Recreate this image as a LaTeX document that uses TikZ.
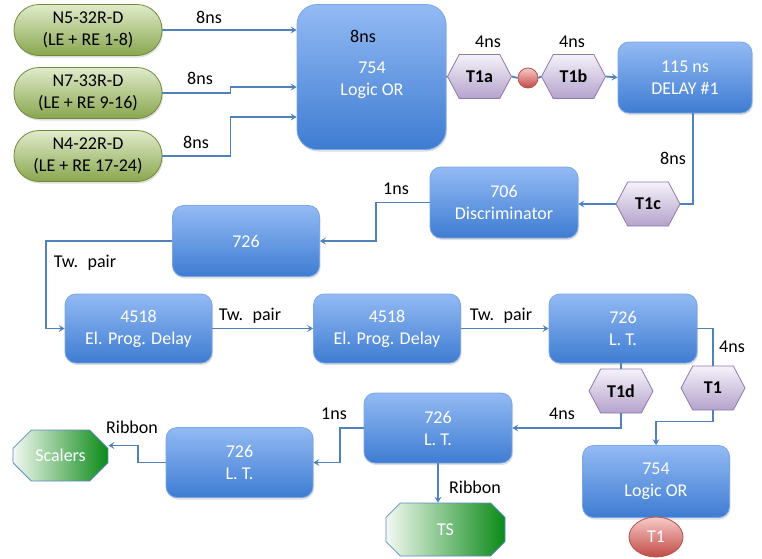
\documentclass[tikz,border=0pt]{standalone}
\usepackage{fontspec}
\setmainfont{Carlito}
\usetikzlibrary{shapes.misc,shapes.symbols,shapes.geometric,arrows.meta,calc,shadows}
\definecolor{boxtop}{HTML}{93BAF4}
\definecolor{boxbot}{HTML}{3E7CD2}
\definecolor{boxline}{HTML}{7AA6E4}
\definecolor{pilltop}{HTML}{E0EBCB}
\definecolor{pillbot}{HTML}{89A64E}
\definecolor{pillline}{HTML}{6F8C3E}
\definecolor{hextop}{HTML}{F5F2F9}
\definecolor{hexbot}{HTML}{B4A2CC}
\definecolor{hexline}{HTML}{8E7AAD}
\definecolor{octleft}{HTML}{F3F9F1}
\definecolor{octright}{HTML}{0B8A18}
\definecolor{octline}{HTML}{5B8CC8}
\definecolor{redtop}{HTML}{F7CAC7}
\definecolor{redbot}{HTML}{C24A46}
\definecolor{redline}{HTML}{B8504C}
\definecolor{wire}{HTML}{4F81BD}
\tikzset{
  bluebox/.style={draw=boxline, line width=0.8pt, rounded corners=11pt,
    top color=boxtop, bottom color=boxbot, text=white, align=center,
    inner sep=0pt,
    drop shadow={shadow xshift=1pt, shadow yshift=-2pt, opacity=0.25}},
  pill/.style={draw=pillline, line width=0.8pt, rounded corners=25pt,
    top color=pilltop, bottom color=pillbot, text=black, align=center,
    inner sep=0pt, minimum width=148pt, minimum height=51pt,
    drop shadow={shadow xshift=1pt, shadow yshift=-2pt, opacity=0.25}},
  hexa/.style={shape=signal, signal to=east and west, signal pointer angle=124,
    draw=hexline, line width=0.8pt, top color=hextop, bottom color=hexbot,
    inner sep=0pt, minimum width=64pt, minimum height=44pt,
    font=\fontsize{18}{22}\selectfont\bfseries, text=black},
  octa/.style={chamfered rectangle, chamfered rectangle xsep=12pt,
    chamfered rectangle ysep=12pt, draw=octline, line width=0.8pt,
    left color=octleft, right color=octright, text=white, inner sep=0pt},
  redball/.style={ellipse, draw=redline, line width=0.8pt, top color=redtop,
    bottom color=redbot, inner sep=0pt, text=white},
  lab/.style={text=black, inner sep=0pt},
  wireline/.style={draw=wire, line width=1.8pt},
  conn/.style={wireline, -{Stealth[length=6pt,width=7pt,inset=2.5pt]}},
}
\begin{document}
\begin{tikzpicture}[x=1pt, y=-1pt, font=\fontsize{18}{22}\selectfont]
\useasboundingbox (0,0) rectangle (762,558);

% source pills
\node[pill] (n5) at (88,30) {N5-32R-D\\(LE + RE 1-8)};
\node[pill] (n7) at (88,93) {N7-33R-D\\(LE + RE 9-16)};
\node[pill] (n4) at (88,156) {N4-22R-D\\(LE + RE 17-24)};

% boxes
\node[bluebox, minimum width=149pt, minimum height=145pt, rounded corners=20pt] (or1) at (371.5,77) {};
\node[text=white, align=center, inner sep=0pt] (or1t) at (372,80) {754\\Logic OR};
\node[lab] (or1l) at (363,36) {8ns};

\node[hexa] (t1a) at (479.5,76.5) {T1a};
\node[redball, minimum width=20pt, minimum height=20pt] (dot) at (528,78) {};
\node[hexa] (t1b) at (573.5,76.5) {T1b};
\node[bluebox, minimum width=134pt, minimum height=71pt] (delay) at (685,77.5) {115 ns\\DELAY \#1};

\node[hexa] (t1c) at (648,204) {T1c};
\node[bluebox, minimum width=148pt, minimum height=71pt] (disc) at (504,202.5) {706\\Discriminator};
\node[bluebox, minimum width=147pt, minimum height=71pt] (b726) at (246,241) {726};

\node[bluebox, minimum width=147pt, minimum height=69pt] (p1) at (138.5,328.5) {4518\\El. Prog. Delay};
\node[bluebox, minimum width=147pt, minimum height=69pt] (p2) at (387,328.5) {4518\\El. Prog. Delay};
\node[bluebox, minimum width=148pt, minimum height=69pt] (lt1) at (623,328.5) {726\\L. T.};

\node[hexa] (t1d) at (621,391) {T1d};
\node[hexa] (t1) at (713,388) {T1};

\node[bluebox, minimum width=148pt, minimum height=70pt] (lt2) at (438,428) {726\\L. T.};
\node[bluebox, minimum width=147pt, minimum height=70pt] (lt3) at (239.5,462.5) {726\\L. T.};
\node[bluebox, minimum width=147pt, minimum height=72pt] (or2) at (656,481.5) {754\\Logic OR};
\node[redball, minimum width=54pt, minimum height=40pt] (t1e) at (656,537) {T1};

\node[octa, minimum width=95pt, minimum height=51pt] (scalers) at (60.5,455.5) {Scalers};
\node[octa, minimum width=119pt, minimum height=53pt] (ts) at (445.5,529.5) {TS};

% connectors
\draw[conn] (n5.east) -- (n5.east -| or1.west);
\draw[conn] (n7.east) -- ++(68,0) |- ($(or1.west)+(0,10)$);
\draw[conn] (n4.east) -- ++(68,0) |- ($(or1.west)+(0,40)$);
\node[lab] (l1) at (209,17) {8ns};
\node[lab] (l2) at (200,78) {8ns};
\node[lab] (l3) at (196,142) {8ns};

\draw[wireline] (or1.east) -- (t1a.west);
\draw[wireline] (t1a.east) -- (dot.west);
\draw[wireline] (dot.east) -- (t1b.west);
\draw[conn] (t1b.east) -- (delay.west);
\node[lab] (l4) at (488,42) {4ns};
\node[lab] (l5) at (572,42) {4ns};

\draw[wireline] ($(delay.south)+(8,0)$) |- (t1c.east);
\node[lab] (l6) at (673,158) {8ns};
\draw[conn] (t1c.west) -- (t1c.west -| disc.east);

\draw[conn] (disc.west) -- ++(-54,0) |- (b726.east);
\node[lab] (l7) at (396,189) {1ns};

\draw[conn] (b726.west) -- ++(-126,0) |- (p1.west);
\node[lab] (l8) at (85,263) {Tw.~ pair};
\draw[conn] (p1.east) -- (p2.west);
\node[lab] (l9) at (250,316) {Tw.~ pair};
\draw[conn] (p2.east) -- (lt1.west);
\node[lab] (l10) at (501,316) {Tw.~ pair};

\draw[wireline] (lt1.east) -| (t1.north);
\node[lab] (l11) at (732,347) {4ns};
\draw[wireline] (lt1.south -| t1d.north) -- (t1d.north);
\draw[conn] (t1d.south) |- (lt2.east);
\node[lab] (l12) at (562,414) {4ns};

\draw[conn] (lt2.west) -- ++(-24,0) |- (lt3.east);
\node[lab] (l13) at (334,414) {1ns};
\draw[conn] (lt3.west) -- ++(-28,0) |- ($(scalers.east)+(0,-10)$);
\node[lab] (l14) at (132,427) {Ribbon};
\draw[conn] (lt2.south) -- (lt2.south |- ts.north);
\node[lab] (l15) at (475,487) {Ribbon};

\draw[conn] (t1.south) -- ++(0,11) -| (or2.north);
\end{tikzpicture}
\end{document}
